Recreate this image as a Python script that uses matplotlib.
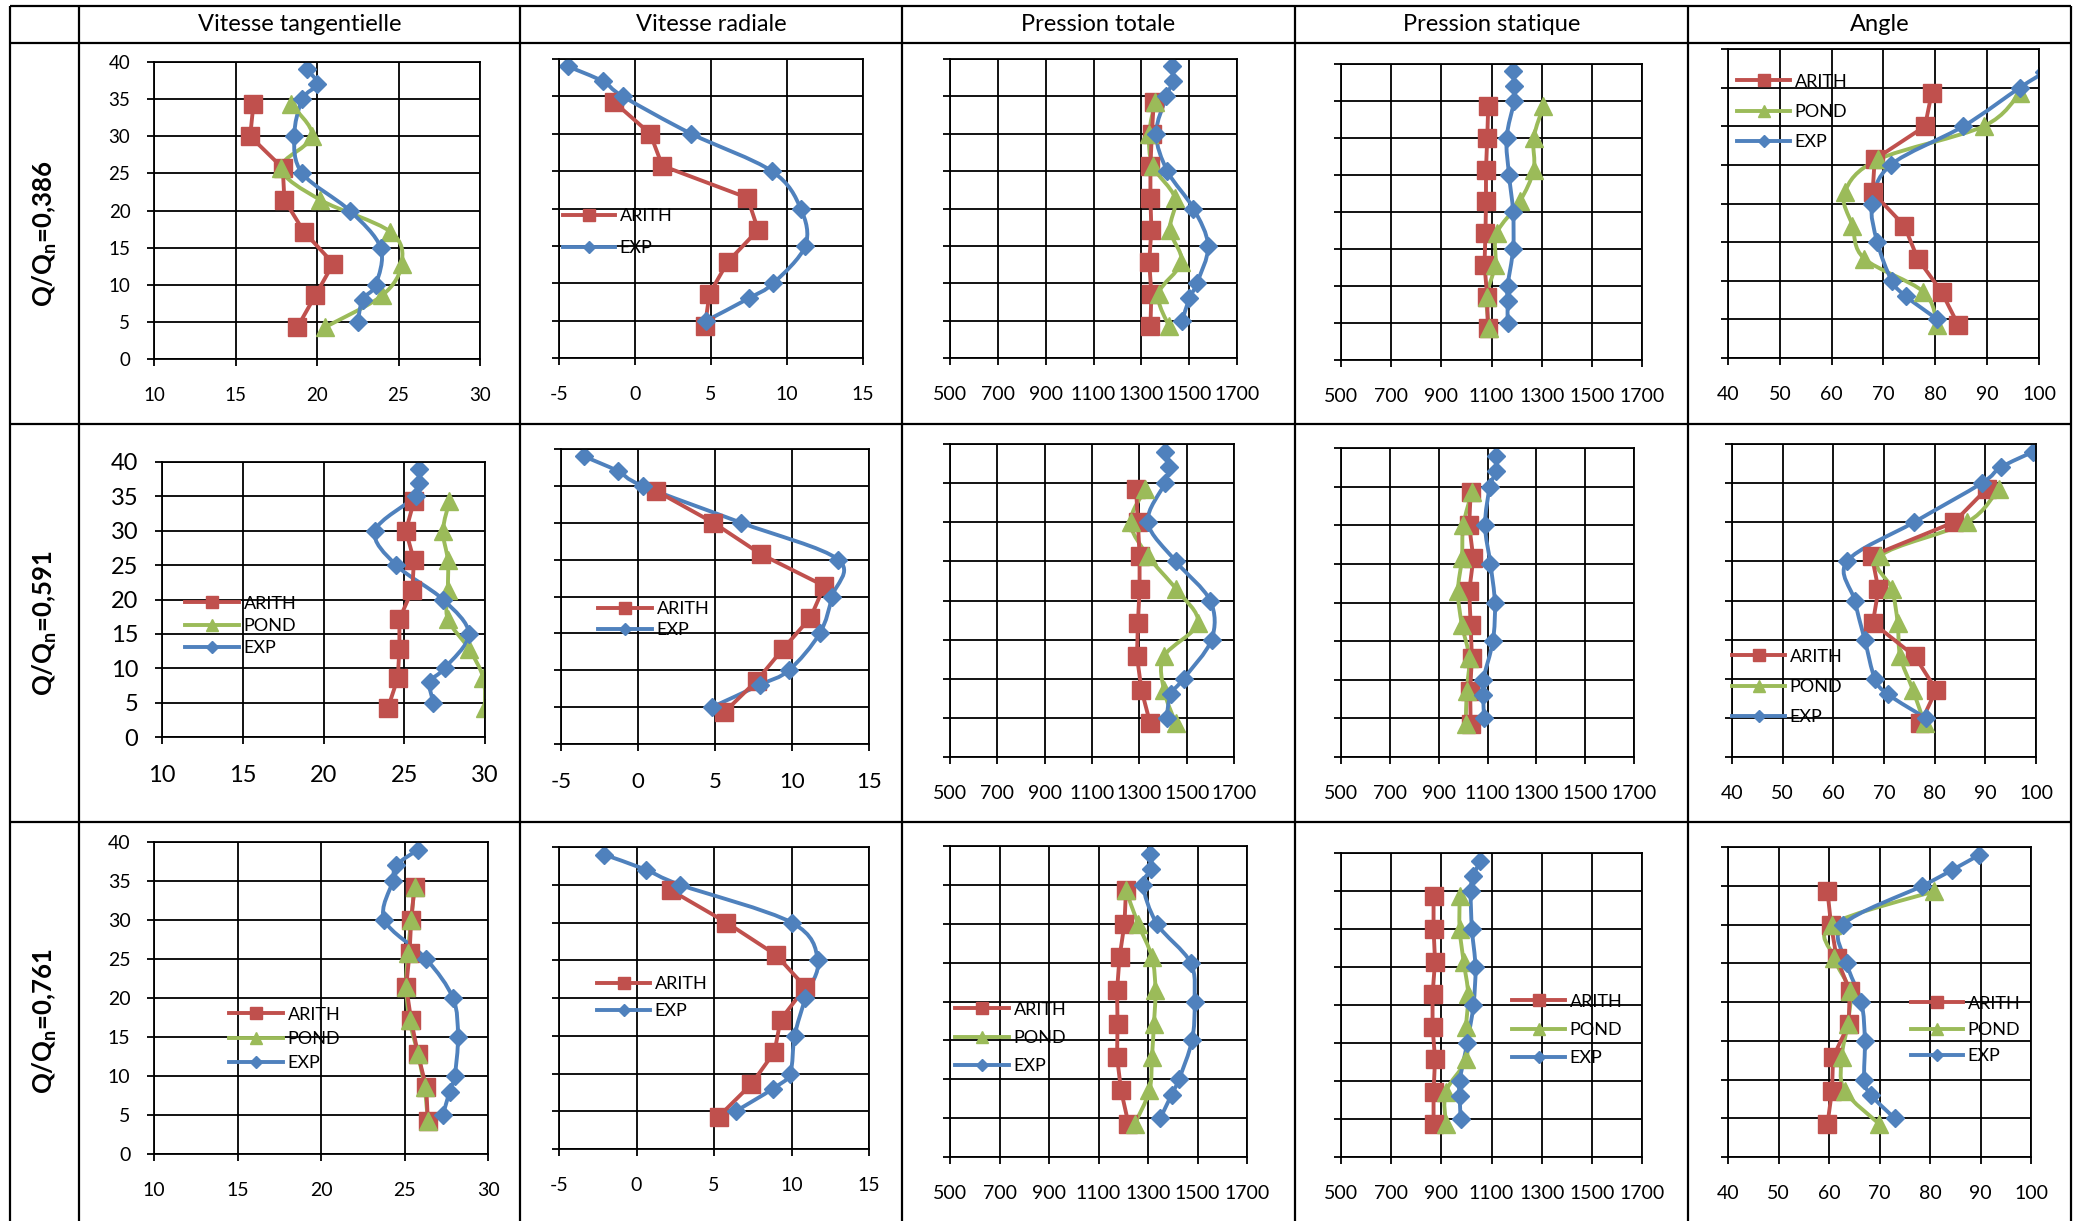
import numpy as np
import matplotlib.pyplot as plt
from matplotlib.path import Path
from matplotlib.patches import PathPatch
from matplotlib.lines import Line2D

plt.rcParams['font.family'] = ['Lato', 'DejaVu Sans']
plt.rcParams['mathtext.fontset'] = 'custom'
plt.rcParams['mathtext.rm'] = 'Lato'
plt.rcParams['mathtext.bf'] = 'Lato:bold'
plt.rcParams['axes.unicode_minus'] = False

# ---- data -------------------------------------------------------------
headers = ['Vitesse tangentielle', 'Vitesse radiale', 'Pression totale',
           'Pression statique', 'Angle']
rows = ['0,386', '0,591', '0,761']

y_calc = [4.29, 8.57, 12.86, 17.14, 21.43, 25.71, 30.0, 34.29]   # ARITH / POND
y_exp = [5, 8, 10, 15, 20, 25, 30, 35, 37, 39]                   # EXP

# Q/Qn = 0,386
vt_386_arith = [18.8, 19.9, 21.0, 19.2, 18.0, 17.9, 15.9, 16.1]
vt_386_pond = [20.5, 24.0, 25.2, 24.5, 20.2, 17.8, 19.7, 18.4]
vt_386_exp = [22.5, 22.8, 23.6, 23.9, 22.0, 19.1, 18.6, 19.1, 20.0, 19.4]
vr_386_arith = [4.6, 4.9, 6.1, 8.1, 7.4, 1.8, 1.0, -1.4]
vr_386_exp = [4.7, 7.5, 9.1, 11.2, 10.9, 9.0, 3.7, -0.8, -2.1, -4.4]
pt_386_arith = [1338, 1342, 1333, 1342, 1338, 1338, 1344, 1352]
pt_386_pond = [1415, 1372, 1467, 1420, 1440, 1348, 1333, 1358]
pt_386_exp = [1471, 1501, 1532, 1579, 1518, 1409, 1362, 1405, 1432, 1428]
ps_386_arith = [1085, 1083, 1072, 1076, 1078, 1078, 1083, 1087]
ps_386_pond = [1091, 1081, 1115, 1121, 1213, 1268, 1268, 1307]
ps_386_exp = [1164, 1164, 1164, 1186, 1186, 1170, 1160, 1190, 1190, 1186]
an_386_arith = [84.4, 81.2, 76.6, 74.0, 67.9, 68.3, 78.0, 79.3]
an_386_pond = [80.4, 77.7, 66.3, 64.0, 62.5, 69.0, 89.3, 96.3]
an_386_exp = [80.4, 74.3, 71.6, 68.8, 67.8, 71.4, 85.4, 96.3, 101, 105]

# Q/Qn = 0,591
vt_591_arith = [24.0, 24.6, 24.7, 24.7, 25.5, 25.6, 25.1, 25.6]
vt_591_pond = [30.0, 29.9, 29.0, 27.7, 27.7, 27.7, 27.4, 27.8]
vt_591_exp = [26.8, 26.6, 27.5, 29.0, 27.4, 24.5, 23.2, 25.7, 25.9, 25.9]
vr_591_arith = [5.6, 7.7, 9.4, 11.2, 12.1, 8.0, 4.9, 1.2]
vr_591_exp = [4.8, 7.9, 9.8, 11.8, 12.6, 13.0, 6.7, 0.3, -1.3, -3.5]
pt_591_arith = [1346, 1309, 1290, 1294, 1301, 1301, 1294, 1286]
pt_591_pond = [1454, 1404, 1404, 1547, 1456, 1336, 1263, 1326]
pt_591_exp = [1415, 1433, 1487, 1605, 1599, 1454, 1336, 1408, 1425, 1408]
ps_591_arith = [1031, 1029, 1036, 1031, 1025, 1042, 1025, 1031]
ps_591_pond = [1011, 1015, 1025, 995, 979, 995, 1001, 1036]
ps_591_exp = [1086, 1082, 1082, 1122, 1130, 1112, 1090, 1110, 1136, 1136]
an_591_arith = [77.2, 80.3, 76.1, 67.8, 68.9, 67.6, 83.8, 90.3]
an_591_pond = [78.0, 75.7, 73.2, 72.7, 71.6, 69.3, 86.4, 92.6]
an_591_exp = [78.2, 70.8, 68.2, 66.2, 64.2, 62.7, 75.9, 89.3, 93.0, 99.4]

# Q/Qn = 0,761
vt_761_arith = [26.4, 26.3, 25.8, 25.4, 25.1, 25.3, 25.4, 25.6]
vt_761_pond = [26.4, 26.2, 25.8, 25.3, 25.1, 25.2, 25.4, 25.6]
vt_761_exp = [27.3, 27.7, 28.0, 28.2, 27.9, 26.3, 23.8, 24.3, 24.5, 25.8]
vr_761_arith = [5.3, 7.4, 8.9, 9.3, 10.9, 9.0, 5.8, 2.2]
vr_761_exp = [6.4, 8.8, 9.9, 10.2, 10.9, 11.7, 10.0, 2.8, 0.6, -2.1]
pt_761_arith = [1221, 1191, 1175, 1177, 1175, 1185, 1205, 1211]
pt_761_pond = [1247, 1306, 1316, 1324, 1330, 1316, 1260, 1211]
pt_761_exp = [1350, 1395, 1425, 1478, 1488, 1472, 1336, 1280, 1314, 1310]
ps_761_arith = [869, 869, 875, 865, 865, 875, 869, 869]
ps_761_pond = [918, 918, 999, 999, 1007, 989, 973, 973]
ps_761_exp = [977, 973, 973, 1003, 1028, 1036, 1022, 1017, 1028, 1056]
an_761_arith = [59.7, 60.6, 60.8, 63.9, 64.1, 61.5, 60.4, 59.7]
an_761_pond = [69.9, 63.1, 62.5, 63.7, 64.1, 61.0, 60.5, 80.8]
an_761_exp = [73.0, 68.3, 67.0, 67.1, 66.4, 63.5, 62.8, 78.5, 84.3, 89.8]

panels = [
    [(vt_386_arith, vt_386_pond, vt_386_exp), (vr_386_arith, None, vr_386_exp),
     (pt_386_arith, pt_386_pond, pt_386_exp), (ps_386_arith, ps_386_pond, ps_386_exp),
     (an_386_arith, an_386_pond, an_386_exp)],
    [(vt_591_arith, vt_591_pond, vt_591_exp), (vr_591_arith, None, vr_591_exp),
     (pt_591_arith, pt_591_pond, pt_591_exp), (ps_591_arith, ps_591_pond, ps_591_exp),
     (an_591_arith, an_591_pond, an_591_exp)],
    [(vt_761_arith, vt_761_pond, vt_761_exp), (vr_761_arith, None, vr_761_exp),
     (pt_761_arith, pt_761_pond, pt_761_exp), (ps_761_arith, ps_761_pond, ps_761_exp),
     (an_761_arith, an_761_pond, an_761_exp)],
]
x_scales = [(10, 30, 5), (-5, 15, 5), (500, 1700, 200), (500, 1700, 200), (40, 100, 10)]

# ---- layout (pixels) -----------------------------------------------------
W, H = 2077, 1221
axes_px = [
    [(154, 62, 480, 359), (559, 59, 863, 358), (950, 59, 1237, 358), (1341, 64, 1642, 360), (1728, 49, 2039, 358)],
    [(162, 462, 485, 737), (561, 449, 869, 744), (950, 444, 1234, 757), (1341, 448, 1634, 757), (1732, 444, 2036, 757)],
    [(154, 842, 488, 1154), (559, 847, 869, 1149), (950, 846, 1247, 1157), (1341, 853, 1642, 1157), (1728, 847, 2031, 1157)],
]
tick_fs = [[13.5, 14, 14, 14, 14], [17, 16, 14, 14, 14], [14, 14, 14, 14, 14]]
# (line start x, first entry y, spacing, handle length) in px
legends = {
    (0, 1): (563, 213, 38, 52), (0, 4): (1737, 76, 36, 53),
    (1, 0): (185, 598, 28, 54), (1, 1): (598, 606, 27, 54), (1, 4): (1732, 651, 36, 53),
    (2, 0): (229, 1009, 30, 54), (2, 1): (597, 981, 33, 53), (2, 2): (955, 1004, 34, 54),
    (2, 3): (1512, 996, 34, 53), (2, 4): (1911, 998, 32, 52),
}
col_x = [10, 79, 520, 902, 1295, 1688, 2071]
row_y = [6, 43, 424, 822, 1221]

red, green, blue = '#C0504D', '#9BBB59', '#4F81BD'
styles = [('ARITH', red, 's', 12.5, False),
          ('POND', green, '^', 13, True),
          ('EXP', blue, 'D', 9.5, True)]
LW = 2.8


def smooth_path(x, y):
    pts = np.column_stack([x, y]).astype(float)
    n = len(pts)
    verts, codes = [pts[0]], [Path.MOVETO]
    for i in range(n - 1):
        p0 = pts[i - 1] if i > 0 else pts[i]
        p1, p2 = pts[i], pts[i + 1]
        p3 = pts[i + 2] if i + 2 < n else pts[i + 1]
        verts += [p1 + (p2 - p0) / 6, p2 - (p3 - p1) / 6, p2]
        codes += [Path.CURVE4] * 3
    return Path(verts, codes)


fig = plt.figure(figsize=(W / 100, H / 100), dpi=100)

for r in range(3):
    for c in range(5):
        l, t, rr, b = axes_px[r][c]
        ax = fig.add_axes([l / W, 1 - b / H, (rr - l) / W, (b - t) / H])
        xmin, xmax, step = x_scales[c]
        ax.set_xlim(xmin, xmax)
        ax.set_ylim(0, 40)
        ax.set_xticks(np.arange(xmin, xmax + step / 2, step))
        ax.set_yticks(np.arange(0, 41, 5))
        ax.grid(True, color='black', lw=1.3)
        ax.set_axisbelow(True)
        for sp in ax.spines.values():
            sp.set_color('black')
            sp.set_linewidth(1.3)
        fs = tick_fs[r][c]
        ax.tick_params(axis='x', direction='out', length=5, width=1.3, pad=15, labelsize=fs)
        ax.tick_params(axis='y', direction='out', length=5, width=1.3, pad=12, labelsize=fs,
                       labelleft=(c == 0))
        handles, labels = [], []
        for series, (name, col, mk, ms, smooth) in zip(panels[r][c], styles):
            if series is None:
                continue
            ys = y_exp if name == 'EXP' else y_calc
            if smooth:
                ax.add_patch(PathPatch(smooth_path(series, ys), fill=False, edgecolor=col,
                                       lw=LW, joinstyle='round', capstyle='round'))
            else:
                ax.plot(series, ys, color=col, lw=LW)
            ax.plot(series, ys, ls='none', marker=mk, ms=ms, color=col, mec=col)
            handles.append(Line2D([], [], color=col, lw=LW, marker=mk, ms=ms, mec=col))
            labels.append(name)
        if (r, c) in legends:
            x0, y0, sp_px, hl = legends[(r, c)]
            lfs = 13
            fpx = lfs * 100 / 72
            yc = y0 + sp_px * (len(labels) - 1) / 2
            ax.legend(handles, labels, loc='center left', bbox_to_anchor=(x0 / W, 1 - yc / H),
                      bbox_transform=fig.transFigure, frameon=False, borderpad=0,
                      borderaxespad=0, handlelength=hl / fpx, handletextpad=0.25,
                      labelspacing=max((sp_px - 1.2 * fpx) / fpx, 0.05), fontsize=lfs,
                      markerscale=0.65)

# ---- table ----------------------------------------------------------------
ov = fig.add_axes([0, 0, 1, 1], zorder=-1)
ov.set_xlim(0, W)
ov.set_ylim(H, 0)
ov.axis('off')
ov.vlines(col_x, row_y[0], row_y[-1], color='black', lw=1.6)
ov.hlines(row_y[:-1], col_x[0], col_x[-1], color='black', lw=1.6)

for i, h in enumerate(headers):
    fig.text((col_x[i + 1] + col_x[i + 2]) / 2 / W, 1 - (row_y[0] + row_y[1]) / 2 / H, h,
             ha='center', va='center', fontsize=17)
for i, q in enumerate(rows):
    fig.text((col_x[0] + col_x[1]) / 2 / W, 1 - (row_y[i + 1] + row_y[i + 2]) / 2 / H,
             r'Q/Q$_{\mathbf{n}}$=' + q, rotation=90, ha='center', va='center',
             fontsize=18.5, fontweight='bold')

fig.savefig('out.png', dpi=100)
